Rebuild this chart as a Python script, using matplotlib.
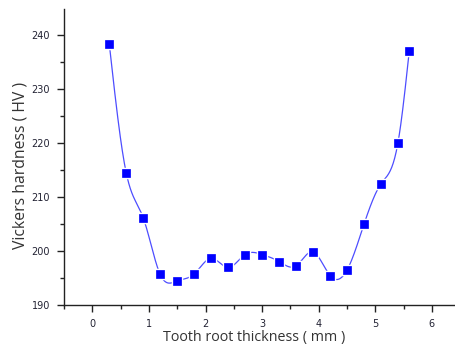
import numpy as np
import matplotlib
matplotlib.use("Agg")
import matplotlib.pyplot as plt
from matplotlib.ticker import MultipleLocator

thickness = [0.3, 0.6, 0.9, 1.2, 1.5, 1.8, 2.1, 2.4, 2.7, 3.0, 3.3, 3.6, 3.9, 4.2, 4.5, 4.8, 5.1, 5.4, 5.6]
hardness = [238.3, 214.4, 206.1, 195.6, 194.4, 195.7, 198.6, 196.9, 199.3, 199.3, 198.0, 197.2, 199.8, 195.4, 196.4, 204.9, 212.4, 220.0, 237.0]
x_ticks = [0, 1, 2, 3, 4, 5, 6]
y_ticks = [190, 200, 210, 220, 230, 240]


def natural_spline(x, y, xs):
    x = np.asarray(x, float); y = np.asarray(y, float)
    n = len(x)
    h = np.diff(x)
    A = np.zeros((n, n)); b = np.zeros(n)
    A[0, 0] = A[-1, -1] = 1
    for i in range(1, n - 1):
        A[i, i - 1] = h[i - 1]
        A[i, i] = 2 * (h[i - 1] + h[i])
        A[i, i + 1] = h[i]
        b[i] = 3 * ((y[i + 1] - y[i]) / h[i] - (y[i] - y[i - 1]) / h[i - 1])
    c = np.linalg.solve(A, b)
    out = np.empty_like(xs)
    for k, xv in enumerate(xs):
        i = min(max(np.searchsorted(x, xv) - 1, 0), n - 2)
        dx = xv - x[i]
        bi = (y[i + 1] - y[i]) / h[i] - h[i] * (2 * c[i] + c[i + 1]) / 3
        di = (c[i + 1] - c[i]) / (3 * h[i])
        out[k] = y[i] + bi * dx + c[i] * dx ** 2 + di * dx ** 3
    return out

W, H = 455, 347
fig = plt.figure(figsize=(W / 100, H / 100), dpi=100)
left_px, bottom_px, top_px = 64, 304.7, 9
ax = fig.add_axes([left_px / W, (H - bottom_px) / H, 7 * 56.6 / W, (bottom_px - top_px) / H])
font = 'Open Sans'

xs = np.linspace(thickness[0], thickness[-1], 600)
ax.plot(xs, natural_spline(thickness, hardness, xs), color='#4d4dff', lw=0.9, zorder=2)
ax.plot(thickness, hardness, 's', color='#0000ff', ms=6, mec='white', mew=2.5, zorder=3)
ax.plot(thickness, hardness, 's', color='#0000ff', ms=6, mec='#0000ff', mew=0.5, zorder=4)

ax.set_xlim(-0.5, 6.5)
ax.set_ylim(190, 244.8)
ax.set_xticks(x_ticks)
ax.set_yticks(y_ticks)
ax.xaxis.set_minor_locator(MultipleLocator(0.5))
ax.yaxis.set_minor_locator(MultipleLocator(5))
for sp in ['top', 'right']:
    ax.spines[sp].set_visible(False)
for sp in ['left', 'bottom']:
    ax.spines[sp].set_color('#222222')
    ax.spines[sp].set_linewidth(1.0)
ax.tick_params(which='major', direction='out', length=5, width=1, color='#222222',
               labelsize=7, labelcolor='#222233', pad=5)
ax.tick_params(which='minor', direction='out', length=3, width=1, color='#222222')
for lab in ax.get_xticklabels() + ax.get_yticklabels():
    lab.set_family('DejaVu Sans')

fig.text(254 / W, (H - 337) / H, 'Tooth root thickness ( mm )', fontsize=10.3, color='#333333',
         family=font, ha='center', va='center')
fig.text(21 / W, (H - 165) / H, 'Vickers hardness ( HV )', fontsize=11.3, color='#333333',
         family=font, ha='center', va='center', rotation=90)

fig.savefig('out.png', dpi=100)
